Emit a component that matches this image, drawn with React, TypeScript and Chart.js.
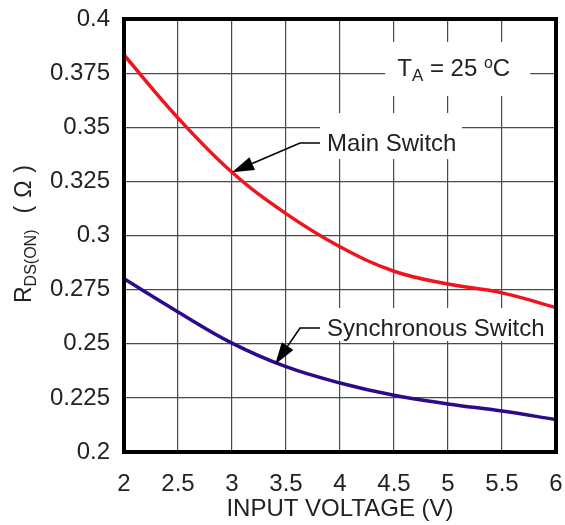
import React, { useEffect, useRef } from 'react';
import { Chart, registerables } from 'chart.js';

Chart.register(...registerables);

const voltages = [2, 2.5, 3, 3.5, 4, 4.5, 5, 5.5, 6];
const mainSwitch = [0.3834, 0.3543, 0.3292, 0.3101, 0.2948, 0.2835, 0.2776, 0.2735, 0.2667];
const syncSwitch = [0.28, 0.2647, 0.2503, 0.2394, 0.2319, 0.2262, 0.2222, 0.2189, 0.215];

const xTicks = [2, 2.5, 3, 3.5, 4, 4.5, 5, 5.5, 6];
const xTickLabels = ['2', '2.5', '3', '3.5', '4', '4.5', '5', '5.5', '6'];
const yTicks = [0.2, 0.225, 0.25, 0.275, 0.3, 0.325, 0.35, 0.375, 0.4];
const yTickLabels = ['0.2', '0.225', '0.25', '0.275', '0.3', '0.325', '0.35', '0.375', '0.4'];

const xTitle = 'INPUT VOLTAGE (V)';

// annotation anchors in data units
const mainNote = { text: 'Main Switch', x: 3.88, y: 0.3427, elbowX: 3.63, tipX: 3, tipY: 0.3292 };
const syncNote = { text: 'Synchronous Switch', x: 3.88, y: 0.2573, elbowX: 3.63, tipX: 3.4, tipY: 0.2405 };
const tempNote = { x: 4.53, y: 0.3774 };

const FONT = '"Liberation Sans", Arial, Helvetica, sans-serif';
const TEXT = '#222';

function arrow(ctx: CanvasRenderingContext2D, pts: number[][], headLen: number, headW: number) {
  const n = pts.length;
  const tip = pts[n - 1];
  const prev = pts[n - 2];
  const dx = tip[0] - prev[0];
  const dy = tip[1] - prev[1];
  const L = Math.hypot(dx, dy);
  const ux = dx / L, uy = dy / L;
  const bx = tip[0] - ux * headLen, by = tip[1] - uy * headLen;
  ctx.beginPath();
  ctx.moveTo(pts[0][0], pts[0][1]);
  for (let i = 1; i < n - 1; i++) ctx.lineTo(pts[i][0], pts[i][1]);
  ctx.lineTo(bx, by);
  ctx.strokeStyle = '#000';
  ctx.lineWidth = 1.6;
  ctx.stroke();
  ctx.beginPath();
  ctx.moveTo(tip[0], tip[1]);
  ctx.lineTo(bx - uy * headW, by + ux * headW);
  ctx.lineTo(bx + uy * headW, by - ux * headW);
  ctx.closePath();
  ctx.fillStyle = '#000';
  ctx.fill();
}

const overlay = {
  id: 'overlay',
  beforeDatasetsDraw(chart: any) {
    const { ctx, scales } = chart;
    const xs = scales.x, ys = scales.y;
    ctx.save();
    ctx.fillStyle = '#fff';
    // label backgrounds (cut the grid)
    const mx = xs.getPixelForValue(mainNote.x), my = ys.getPixelForValue(mainNote.y);
    ctx.fillRect(mx - 7, my - 30, 142, 46);
    const sx = xs.getPixelForValue(syncNote.x), sy = ys.getPixelForValue(syncNote.y);
    ctx.fillRect(sx - 7, sy - 20, 240, 33);
    const tx = xs.getPixelForValue(tempNote.x), ty = ys.getPixelForValue(tempNote.y);
    ctx.fillRect(tx - 12, ty - 26, 145, 54);
    ctx.restore();
  },
  afterDatasetsDraw(chart: any) {
    const { ctx, scales, chartArea } = chart;
    const xs = scales.x, ys = scales.y;
    ctx.save();
    ctx.fillStyle = TEXT;
    ctx.textBaseline = 'middle';
    ctx.textAlign = 'left';
    ctx.font = `24px ${FONT}`;
    for (const note of [mainNote, syncNote]) {
      const lx = xs.getPixelForValue(note.x), ly = ys.getPixelForValue(note.y);
      ctx.fillStyle = TEXT;
      ctx.fillText(note.text, lx, ly + 1);
      const ex = xs.getPixelForValue(note.elbowX);
      const tipx = xs.getPixelForValue(note.tipX), tipy = ys.getPixelForValue(note.tipY);
      arrow(ctx, [[lx - 7, ly], [ex, ly], [tipx, tipy]], 22, 7);
    }
    // T_A = 25 oC
    const tx = xs.getPixelForValue(tempNote.x), ty = ys.getPixelForValue(tempNote.y);
    const base = ty + 8.5;
    ctx.textBaseline = 'alphabetic';
    ctx.fillStyle = TEXT;
    let cx = tx;
    ctx.font = `24px ${FONT}`;
    ctx.fillText('T', cx, base); cx += ctx.measureText('T').width;
    ctx.font = `17px ${FONT}`;
    ctx.fillText('A', cx, base + 5); cx += ctx.measureText('A').width;
    ctx.font = `24px ${FONT}`;
    ctx.fillText(' = 25 ', cx, base); cx += ctx.measureText(' = 25 ').width;
    ctx.font = `16px ${FONT}`;
    ctx.fillText('o', cx, base - 8); cx += ctx.measureText('o').width;
    ctx.font = `24px ${FONT}`;
    ctx.fillText('C', cx, base);

    // frame
    ctx.strokeStyle = '#000';
    ctx.lineWidth = 4;
    ctx.strokeRect(chartArea.left, chartArea.top, chartArea.right - chartArea.left, chartArea.bottom - chartArea.top);

    // x title
    ctx.font = `24px ${FONT}`;
    ctx.textAlign = 'center';
    ctx.textBaseline = 'middle';
    ctx.fillText(xTitle, (chartArea.left + chartArea.right) / 2, 509);

    // y title (rotated)
    ctx.translate(31, 303);
    ctx.rotate(-Math.PI / 2);
    ctx.textAlign = 'left';
    ctx.textBaseline = 'alphabetic';
    let u = 0;
    ctx.font = `23px ${FONT}`;
    ctx.fillText('R', u, 0); u += ctx.measureText('R').width;
    ctx.font = `16px ${FONT}`;
    ctx.fillText('DS(ON)', u, 5); u += ctx.measureText('DS(ON)').width;
    u += 16;
    ctx.font = `23px ${FONT}`;
    ctx.fillText('(', u, 0); u += ctx.measureText('(').width + 8;
    ctx.fillText('\u03A9', u, 0); u += ctx.measureText('\u03A9').width + 8;
    ctx.fillText(')', u, 0);
    ctx.restore();
  },
};

const noScalePadding = (s: any) => {
  s.paddingLeft = 0;
  s.paddingRight = 0;
  s.paddingTop = 0;
  s.paddingBottom = 0;
};

export default function App() {
  const ref = useRef<HTMLCanvasElement>(null);
  useEffect(() => {
    if (!ref.current) return;
    const chart = new Chart(ref.current, {
      type: 'line',
      data: {
        datasets: [
          {
            label: 'Main Switch',
            data: voltages.map((v, i) => ({ x: v, y: mainSwitch[i] })),
            borderColor: '#f0141e',
            borderWidth: 3.5,
            pointRadius: 0,
            tension: 0.4,
            fill: false,
          },
          {
            label: 'Synchronous Switch',
            data: voltages.map((v, i) => ({ x: v, y: syncSwitch[i] })),
            borderColor: '#2c0a8c',
            borderWidth: 3.5,
            pointRadius: 0,
            tension: 0.4,
            fill: false,
          },
        ],
      },
      options: {
        animation: false,
        responsive: false,
        maintainAspectRatio: false,
        devicePixelRatio: 1,
        layout: { padding: { top: 19, right: 9, left: 0, bottom: 0 } },
        plugins: { legend: { display: false }, tooltip: { enabled: false }, title: { display: false } },
        scales: {
          x: {
            type: 'linear',
            min: 2,
            max: 6,
            afterFit: (s: any) => { s.height = 73; noScalePadding(s); },
            afterBuildTicks: (s: any) => { s.ticks = xTicks.map((v) => ({ value: v })); },
            ticks: {
              padding: 18,
              color: TEXT,
              font: { family: FONT, size: 24 },
              maxRotation: 0,
              callback: (_v: any, i: number) => xTickLabels[i],
            },
            grid: { color: '#4a4a4a', lineWidth: 1.2, drawTicks: false },
            border: { display: false },
          },
          y: {
            type: 'linear',
            min: 0.2,
            max: 0.4,
            afterFit: (s: any) => { s.width = 124; noScalePadding(s); },
            afterBuildTicks: (s: any) => { s.ticks = yTicks.map((v) => ({ value: v })); },
            ticks: {
              padding: 14,
              color: TEXT,
              font: { family: FONT, size: 24 },
              callback: (_v: any, i: number) => yTickLabels[i],
            },
            grid: { color: '#4a4a4a', lineWidth: 1.2, drawTicks: false },
            border: { display: false },
          },
        },
      },
      plugins: [overlay],
    } as any);
    return () => chart.destroy();
  }, []);
  return (
    <div style={{ position: 'absolute', left: 0, top: 0, width: 565, height: 525, background: '#fff' }}>
      <canvas ref={ref} width={565} height={525} style={{ width: 565, height: 525 }} />
    </div>
  );
}
